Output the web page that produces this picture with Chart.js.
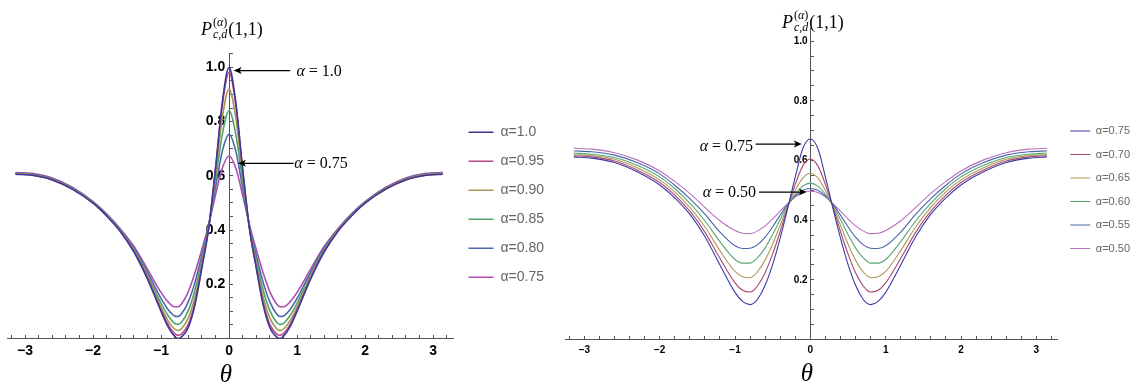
<!DOCTYPE html>
<html>
<head>
<meta charset="utf-8">
<script src="https://cdn.jsdelivr.net/npm/chart.js@4.4.1/dist/chart.umd.min.js"></script>
<style>
  body { margin: 0; background: #fff; width: 1140px; height: 390px; position: relative; overflow: hidden; font-family: "Liberation Serif", serif; }
  canvas { position: absolute; top: 0; }
  .ttl { position: absolute; font-size: 18px; line-height: 20px; white-space: nowrap; color: #000; }
  .ss { display: inline-block; vertical-align: -3px; font-size: 12px; line-height: 12px; margin: 0 1px 0 1px; }
  .ss span { display: block; }
  .th { position: absolute; font-size: 25px; font-style: italic; transform: translate(-50%, -50%); }
</style>
</head>
<body>
<canvas id="left" width="560" height="390" style="left:0"></canvas>
<canvas id="right" width="580" height="390" style="left:560px"></canvas>

<div class="ttl" style="left:201px; top:16px"><i>P</i><span class="ss"><span>(<i>α</i>)</span><span><i>c,d</i></span></span>(1,1)</div>
<div class="ttl" style="left:782px; top:9px"><i>P</i><span class="ss"><span>(<i>α</i>)</span><span><i>c,d</i></span></span>(1,1)</div>
<div class="th" style="left:226px; top:374px">θ</div>
<div class="th" style="left:807px; top:373px">θ</div>

<script>
// theta grid shared by both panels
const theta = [-3.14, -2.9, -2.6, -2.3, -2.0, -1.8, -1.6, -1.4, -1.2, -1.0, -0.9, -0.8, -0.75, -0.7, -0.6, -0.5, -0.4, -0.3, -0.2, -0.1,
  0, 0.1, 0.2, 0.3, 0.4, 0.5, 0.6, 0.7, 0.75, 0.8, 0.9, 1.0, 1.2, 1.4, 1.6, 1.8, 2.0, 2.3, 2.6, 2.9, 3.14];

// left panel, alpha = 1.0 ... 0.75
const leftAlphas = ["1.0", "0.95", "0.90", "0.85", "0.80", "0.75"];
const p100 = [.606,.602,.585,.550,.499,.452,.395,.320,.220,.100,.045,.008,.000,.005,.040,.125,.260,.405,.625,.870, 1.000, .870,.625,.405,.260,.125,.040,.005,.000,.008,.045,.100,.220,.320,.395,.452,.499,.550,.585,.602,.606];
const p095 = [.607,.603,.586,.551,.500,.453,.397,.322,.223,.106,.053,.018,.012,.016,.052,.135,.265,.407,.622,.858, .982, .858,.622,.407,.265,.135,.052,.016,.012,.018,.053,.106,.223,.322,.397,.453,.500,.551,.586,.603,.607];
const p090 = [.608,.604,.587,.552,.501,.454,.398,.325,.229,.116,.067,.035,.030,.036,.075,.155,.275,.410,.605,.812, .920, .812,.605,.410,.275,.155,.075,.036,.030,.035,.067,.116,.229,.325,.398,.454,.501,.552,.587,.604,.608];
const p085 = [.609,.605,.588,.553,.502,.456,.400,.329,.236,.130,.086,.056,.052,.060,.103,.180,.290,.413,.580,.752, .840, .752,.580,.413,.290,.180,.103,.060,.052,.056,.086,.130,.236,.329,.400,.456,.502,.553,.588,.605,.609];
const p080 = [.610,.607,.590,.555,.503,.458,.402,.334,.245,.148,.108,.083,.081,.090,.135,.208,.307,.416,.555,.690, .753, .690,.555,.416,.307,.208,.135,.090,.081,.083,.108,.148,.245,.334,.402,.458,.503,.555,.590,.607,.610];
const p075 = [.612,.609,.592,.557,.505,.460,.405,.340,.256,.170,.136,.117,.117,.127,.172,.243,.328,.420,.528,.628, .673, .628,.528,.420,.328,.243,.172,.127,.117,.117,.136,.170,.256,.340,.405,.460,.505,.557,.592,.609,.612];

// right panel, alpha = 0.75 ... 0.50
const rightAlphas = ["0.75", "0.70", "0.65", "0.60", "0.55", "0.50"];
const q075 = [.612,.608,.593,.562,.518,.475,.420,.345,.250,.158,.128,.117,.122,.135,.182,.252,.340,.440,.545,.640, .672, .640,.545,.440,.340,.252,.182,.135,.122,.117,.128,.158,.250,.345,.420,.475,.518,.562,.593,.608,.612];
const q070 = [.616,.612,.598,.568,.526,.484,.430,.360,.272,.190,.165,.159,.166,.180,.224,.287,.362,.444,.520,.582, .605, .582,.520,.444,.362,.287,.224,.180,.166,.159,.165,.190,.272,.360,.430,.484,.526,.568,.598,.612,.616];
const q065 = [.620,.616,.604,.576,.535,.495,.443,.378,.298,.228,.210,.207,.214,.227,.266,.320,.383,.447,.500,.541, .557, .541,.500,.447,.383,.320,.266,.227,.214,.207,.210,.228,.298,.378,.443,.495,.535,.576,.604,.616,.620];
const q060 = [.625,.621,.610,.584,.545,.506,.457,.398,.328,.268,.256,.256,.263,.274,.307,.352,.402,.450,.487,.514, .524, .514,.487,.450,.402,.352,.307,.274,.263,.256,.256,.268,.328,.398,.457,.506,.545,.584,.610,.621,.625];
const q055 = [.632,.629,.618,.593,.555,.517,.472,.420,.360,.314,.305,.306,.310,.318,.343,.378,.417,.453,.481,.500, .506, .500,.481,.453,.417,.378,.343,.318,.310,.306,.305,.314,.360,.420,.472,.517,.555,.593,.618,.629,.632];
const q050 = [.641,.638,.626,.602,.565,.530,.490,.443,.398,.365,.356,.355,.358,.364,.381,.404,.430,.455,.478,.493, .497, .493,.478,.455,.430,.404,.381,.364,.358,.355,.356,.365,.398,.443,.490,.530,.565,.602,.626,.638,.641];

// labelled ticks
const xLabels = [-3, -2, -1, 0, 1, 2, 3];
const yLabels = [0.2, 0.4, 0.6, 0.8, 1.0];

const leftColors = ["#3b3b96", "#b94a8a", "#a8974e", "#4ea56a", "#4a68a8", "#b04cb4"];
const rightColors = ["#3a3aa6", "#a8466e", "#b0985a", "#56a872", "#4a64a8", "#b872be"];

Chart.defaults.font.family = "Liberation Sans";

// arrows with "α = ..." labels, placed in data units
const arrowNotes = {
  id: "arrowNotes",
  afterDatasetsDraw(chart, args, opts) {
    const { ctx } = chart, sx = chart.scales.x, sy = chart.scales.y;
    ctx.save();
    opts.items.forEach(n => {
      const y = sy.getPixelForValue(n.y), x0 = sx.getPixelForValue(n.from), x1 = sx.getPixelForValue(n.to);
      const dir = x1 < x0 ? 1 : -1;
      ctx.strokeStyle = "#000"; ctx.fillStyle = "#000"; ctx.lineWidth = 1.2;
      ctx.beginPath(); ctx.moveTo(x0, y); ctx.lineTo(x1 + dir * 5, y); ctx.stroke();
      ctx.beginPath(); ctx.moveTo(x1, y); ctx.lineTo(x1 + dir * 8, y - 3.5); ctx.lineTo(x1 + dir * 6, y); ctx.lineTo(x1 + dir * 8, y + 3.5); ctx.closePath(); ctx.fill();
      const ty = sy.getPixelForValue(n.ty);
      ctx.textBaseline = "middle"; ctx.textAlign = "left";
      ctx.font = "italic 16px 'Liberation Serif'";
      const a = ctx.measureText("α").width;
      ctx.font = "16px 'Liberation Serif'";
      const rest = " = " + n.text, w = a + ctx.measureText(rest).width;
      let tx = sx.getPixelForValue(n.tx);
      if (n.align === "right") tx -= w;
      ctx.font = "italic 16px 'Liberation Serif'"; ctx.fillText("α", tx, ty);
      ctx.font = "16px 'Liberation Serif'"; ctx.fillText(rest, tx + a, ty);
    });
    ctx.restore();
  }
};

function near(list, v) { return list.some(t => Math.abs(t - v) < 1e-6); }

function panel(id, o) {
  const axisCol = "#555";
  return new Chart(document.getElementById(id), {
    type: "line",
    data: {
      datasets: o.series.map((vals, i) => ({
        label: "α=" + o.alphas[i],
        data: theta.map((t, k) => ({ x: t, y: vals[k] })),
        borderColor: o.colors[i],
        backgroundColor: o.colors[i],
        borderWidth: o.lw,
        pointRadius: 0,
        cubicInterpolationMode: "monotone",
        fill: false
      }))
    },
    options: {
      responsive: false,
      animation: false,
      events: [],
      layout: { padding: o.pad },
      scales: {
        x: {
          type: "linear", position: { y: 0 }, min: o.xMin, max: o.xMax,
          border: { color: axisCol, width: 1 },
          grid: { drawOnChartArea: false, color: axisCol, tickLength: -4 },
          ticks: {
            stepSize: 0.2, includeBounds: false, autoSkip: false, maxRotation: 0, padding: o.xPad,
            color: "#000", font: { size: o.tick, weight: "bold" },
            callback: v => near(xLabels, v) ? String(Math.round(v)).replace("-", "\u2212") : ""
          }
        },
        y: {
          type: "linear", position: { x: 0 }, min: 0, max: o.yMax,
          border: { color: axisCol, width: 1 },
          grid: { drawOnChartArea: false, color: axisCol, tickLength: -4 },
          ticks: {
            stepSize: 0.05, includeBounds: false, autoSkip: false,
            color: "#000", font: { size: o.tick, weight: "bold" },
            // labels sit right-aligned on the axis line, a trailing space keeps a gap
            callback: v => near(yLabels, v) ? v.toFixed(1) + " " : ""
          }
        }
      },
      plugins: {
        tooltip: { enabled: false },
        legend: {
          position: "right", align: "center",
          title: { display: true, text: " ", font: { size: o.legTitle, lineHeight: 1 }, padding: 0 },
          labels: {
            usePointStyle: true, pointStyle: "line", pointStyleWidth: o.legW,
            padding: o.legPad, color: "#666", font: { size: o.legFont }
          }
        },
        arrowNotes: { items: o.notes }
      }
    },
    plugins: [arrowNotes]
  });
}

panel("left", {
  series: [p100, p095, p090, p085, p080, p075], alphas: leftAlphas, colors: leftColors, lw: 1.6,
  pad: { left: 7, top: 53, bottom: 51.5, right: 6 },
  xMin: -3.265, xMax: 3.30, yMax: 1.053, tick: 14, xPad: 8,
  legTitle: 18, legW: 25, legPad: 15, legFont: 14,
  notes: [
    { text: "1.0", y: 0.988, from: 0.90, to: 0.068, tx: 0.99, ty: 0.985 },
    { text: "0.75", y: 0.646, from: 0.95, to: 0.13, tx: 0.96, ty: 0.643 }
  ]
});

panel("right", {
  series: [q075, q070, q065, q060, q055, q050], alphas: rightAlphas, colors: rightColors, lw: 1.1,
  pad: { left: 5.5, top: 28, bottom: 50.5, right: 0 },
  xMin: -3.25, xMax: 3.285, yMax: 1.044, tick: 10, xPad: 9,
  legTitle: 12, legW: 20, legPad: 12.5, legFont: 11,
  notes: [
    { text: "0.75", y: 0.655, from: -0.726, to: -0.113, tx: -0.76, ty: 0.646, align: "right" },
    { text: "0.50", y: 0.494, from: -0.681, to: -0.049, tx: -0.72, ty: 0.493, align: "right" }
  ]
});
</script>
</body>
</html>
